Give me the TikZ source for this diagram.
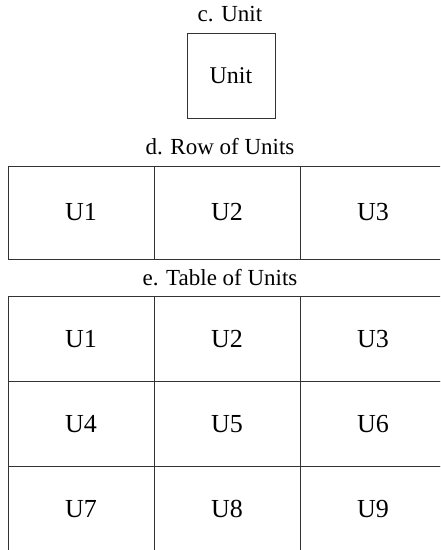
\documentclass[tikz,border=0pt]{standalone}
\usepackage{fontspec}
\setmainfont{Liberation Serif}
\usetikzlibrary{positioning}
\tikzstyle{heading} = [inner sep=0pt, font=\fontsize{23}{27}\selectfont]
\tikzstyle{unitBox} = [rectangle, minimum width=88pt, minimum height=85pt, outer sep=0pt, text centered, draw=black!80, line width=1pt, font=\fontsize{24}{28}\selectfont]
\tikzstyle{cell} = [rectangle, minimum width=146pt, minimum height=85pt, outer sep=0pt, text centered, draw=black!80, line width=1pt, font=\fontsize{26}{30}\selectfont]
\tikzstyle{rowCell} = [cell, minimum height=93pt]
\begin{document}
\begin{tikzpicture}[x=1pt, y=-1pt]

    \useasboundingbox (0,0) rectangle (440,550);
    \clip (0,0) rectangle (440,550);

    \node (unitTitle) [heading] at (230,14.5) {c. Unit};
    \node (unit) [unitBox] at (231,75.5) {Unit};

    \node (rowTitle) [heading] at (220,146.5) {d. Row of Units};
    \node (r1) [rowCell] at (81,212.5) {U1};
    \node (r2) [rowCell, right=0pt of r1] {U2};
    \node (r3) [rowCell, right=0pt of r2] {U3};

    \node (tableTitle) [heading] at (220,277.5) {e. Table of Units};
    \node (t1) [cell] at (81,339) {U1};
    \node (t2) [cell, right=0pt of t1] {U2};
    \node (t3) [cell, right=0pt of t2] {U3};
    \node (t4) [cell, below=0pt of t1] {U4};
    \node (t5) [cell, right=0pt of t4] {U5};
    \node (t6) [cell, right=0pt of t5] {U6};
    \node (t7) [cell, below=0pt of t4] {U7};
    \node (t8) [cell, right=0pt of t7] {U8};
    \node (t9) [cell, right=0pt of t8] {U9};

\end{tikzpicture}
\end{document}
